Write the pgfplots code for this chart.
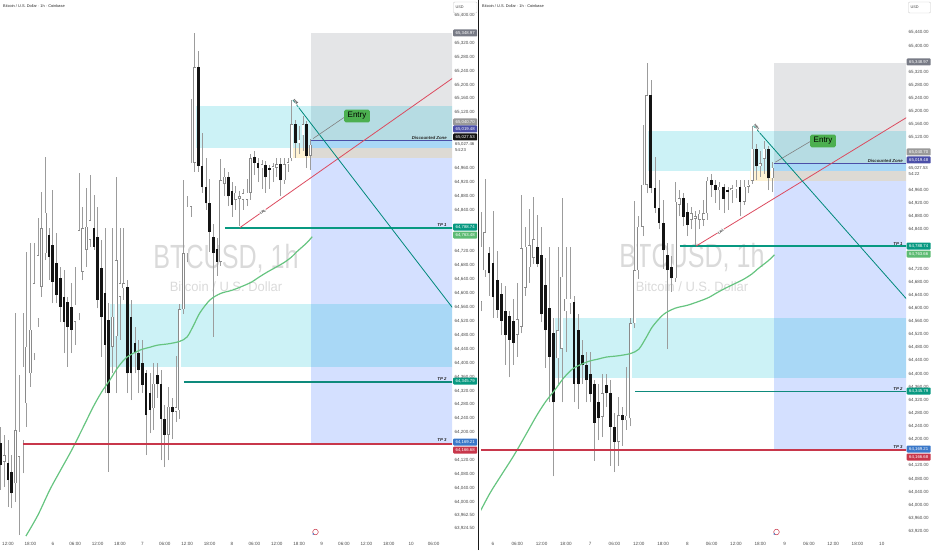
\documentclass[border=0pt]{standalone}
\usepackage{fontspec}
\setmainfont{Liberation Sans}
\usepackage{pgfplots}
\usepackage{pgfplotstable}
\pgfplotsset{compat=1.18}

\definecolor{wickc}{HTML}{9C9C9C}
\definecolor{outc}{HTML}{8A8A8A}
\definecolor{downc}{HTML}{141414}
\definecolor{mac}{RGB}{102,196,128}
\definecolor{greyz}{RGB}{120,123,134}
\definecolor{bluez}{RGB}{41,98,255}
\definecolor{cyanz}{RGB}{0,188,212}
\definecolor{yelz}{RGB}{255,200,60}
\definecolor{tpgreen}{HTML}{089981}
\definecolor{tptwo}{HTML}{0E8A7C}
\definecolor{tpred}{HTML}{C8374B}
\definecolor{discc}{HTML}{4B4FA8}
\definecolor{lrlc}{RGB}{220,75,95}
\definecolor{hrlc}{HTML}{00897B}
\definecolor{entryc}{RGB}{76,175,80}
\definecolor{labc}{HTML}{4A4A4A}
\definecolor{wmc}{HTML}{DADADA}
\definecolor{stopl}{HTML}{787B86}
\definecolor{entl}{HTML}{9A9A9A}
\definecolor{mal}{HTML}{5DBB73}
\definecolor{tgtl}{HTML}{3A78C9}

\newcommand{\lbfont}{\fontsize{4.3}{5}\selectfont}

% hourly candles, h = hours after day 5 00:00
\pgfplotstableread{
h O H L C
11 64116 64193 64044 64135
14 64054 64543 64001 64207
15 64130 64365 63905 64202
16 64178 64543 64082 64389
17 64284 64720 64217 64447
18 64370 64744 64332 64495
19 64428 64744 64408 64629
20 64528 64816 64504 64710
21 64619 64893 64591 64787
22 64715 64993 64696 64832
30 64519 64677 64452 64567
31 64543 64945 64523 64782
32 64662 64849 64638 64787
33 64725 64902 64677 64792
34 64754 64940 64734 64811
40 64447 64787 64370 64533
41 64476 64936 64313 64696
42 64591 64787 64466 64629
43 64615 64787 64581 64629
51 64269 64400 64207 64340
55 64193 64330 64120 64274
57 64259 64420 64230 64272
58 64264 64570 64240 64554
59 64554 64926 64540 64716
60 64716 64880 64690 64849
61 64849 65160 64820 64976
62 64976 65349 64950 65250
69 64691 64986 64680 64925
70 64915 64960 64880 64935
73 64869 64910 64840 64889
74 64872 64895 64793 64880
75 64870 64900 64840 64888
76 64870 64930 64850 64889
77 64889 65000 64870 64989
80 64960 64985 64900 64971
83 64960 64975 64920 64966
84 64962 64990 64935 64971
86 64925 64990 64915 64971
87 64971 64990 64950 64977
88 64989 65156 64980 65086
90 65032 65080 65000 65042
91 65055 65110 65010 65086
93 64996 65045 64955 65027.53
}\upc

\pgfplotstableread{
h O H L C
10 64169 64217 64035 64106
12 64111 64178 63987 64063
13 64087 64135 63982 64025
23 64768 64787 64638 64706
24 64739 64897 64571 64634
25 64686 64773 64571 64595
26 64643 64677 64519 64562
27 64591 64667 64428 64519
28 64576 64591 64389 64504
29 64562 64629 64428 64495
35 64787 64883 64725 64734
36 64763 64849 64557 64581
37 64672 64754 64418 64533
38 64600 64787 64313 64452
39 64523 64571 64087 64313
44 64619 64638 64313 64370
45 64533 64581 64293 64370
46 64456 64504 64370 64428
47 64428 64466 64313 64380
48 64399 64466 64313 64337
49 64370 64380 64135 64250
50 64313 64370 64197 64265
52 64366 64400 64300 64340
53 64340 64380 64120 64239
54 64239 64280 64100 64193
56 64274 64300 64180 64259
63 65250 65296 64950 64966
64 64966 65062 64890 64905
65 64905 64990 64840 64859
66 64859 64930 64720 64777
67 64762 64800 64475 64716
68 64727 64760 64650 64691
71 64935 64950 64850 64879
72 64894 64920 64820 64854
78 64991 65010 64940 64976
79 64976 64990 64920 64960
81 64970 64980 64890 64934
82 64960 64970 64900 64955
85 64971 64990 64880 64925
89 65086 65100 64990 65032
92 65086 65095 64960 64996
}\downc

\pgfplotstableread{
h ma
16.8 63902
20 63962
23.2 64035
26 64090
29.1 64150
32 64212
34.8 64273
37 64315
39.3 64351
41.5 64388
43.9 64417
47.4 64437
50 64445
52 64451
55 64455
58 64462
60 64475
61.8 64510
63.4 64544
66.1 64581
69 64600
72.3 64610
76.8 64630
79 64645
81.4 64661
85.7 64687
88 64705
89.4 64720
92 64745
93.5 64763
}\matab

\pgfplotsset{
  tv/.style={
    scale only axis, anchor=south west, height=537pt,
    axis line style={draw=none}, tick style={draw=none}, major tick length=0pt,
    clip mode=individual, scaled y ticks=false,
    yticklabel pos=right,
    xticklabel style={font=\fontsize{4.6}{5}\selectfont, text=labc, anchor=center, inner sep=0pt, yshift=-6.5pt},
    yticklabel style={font=\fontsize{4.5}{5}\selectfont, text=labc, anchor=west, inner sep=0pt, xshift=2.5pt,
      /pgf/number format/.cd, fixed, fixed zerofill, precision=2, 1000 sep={,}, assume math mode=true},
  },
  ebar/.style={draw=none, mark=none, forget plot, error bars/.cd, y dir=plus, y explicit, error mark=none},
}

% #1 text right h, #2 LRL angle, #3 HRL angle, #4 body width, #5 inner width, #6 inset
\newcommand{\overlays}[6]{%
  \addplot[draw=none, fill=greyz, fill opacity=0.2, forget plot] coordinates {(93.3,65040.7) (140,65040.7) (140,65348.97) (93.3,65348.97)};
  \addplot[draw=none, fill=bluez, fill opacity=0.2, forget plot] coordinates {(93.3,64169.21) (140,64169.21) (140,65040.7) (93.3,65040.7)};
  \addplot[draw=none, fill=cyanz, fill opacity=0.2, forget plot] coordinates {(62.1,65018) (140,65018) (140,65139) (62.1,65139)};
  \addplot[draw=none, fill=cyanz, fill opacity=0.2, forget plot] coordinates {(39.3,64388) (140,64388) (140,64569) (39.3,64569)};
  \addplot[draw=none, fill=yelz, fill opacity=0.22, forget plot] coordinates {(87.5,64989) (140,64989) (140,65018) (87.5,65018)};
  % wicks
  \addplot[ebar, error bar style={line width=0.6pt, draw=wickc}] table[x=h, y=L, y error expr=\thisrow{H}-\thisrow{L}] {\upc};
  \addplot[ebar, error bar style={line width=0.6pt, draw=wickc}] table[x=h, y=L, y error expr=\thisrow{H}-\thisrow{L}] {\downc};
  % bodies
  \addplot[ebar, error bar style={line width=#4, draw=outc}] table[x=h, y=O, y error expr={max(\thisrow{C}-\thisrow{O},3)}] {\upc};
  \addplot[ebar, error bar style={line width=#5, draw=white}] table[x=h, y expr=\thisrow{O}+#6, y error expr={max(\thisrow{C}-\thisrow{O}-2*#6,0)}] {\upc};
  \addplot[ebar, error bar style={line width=#4, draw=downc}] table[x=h, y=C, y error expr={max(\thisrow{O}-\thisrow{C},3)}] {\downc};
  % moving average
  \addplot[draw=mac, line width=1.2pt, mark=none, smooth, forget plot] table[x=h, y=ma] {\matab};
  % levels
  \addplot[draw=tpgreen, line width=1.8pt, mark=none, forget plot] coordinates {(70.1,64788.74) (140,64788.74)};
  \addplot[draw=tptwo, line width=1.8pt, mark=none, forget plot] coordinates {(59.1,64345.79) (140,64345.79)};
  \addplot[draw=tpred, line width=1.8pt, mark=none, forget plot] coordinates {(16,64166.68) (140,64166.68)};
  \addplot[draw=discc, line width=1.3pt, mark=none, forget plot] coordinates {(93.3,65040.7) (140,65040.7)};
  % trend lines
  \addplot[draw=lrlc, line width=0.8pt, mark=none, forget plot] coordinates {(74.1,64789) (140,65286)};
  \addplot[draw=hrlc, line width=0.6pt, mark=none, dashed, forget plot] coordinates {(88.3,65156) (89.9,65134)};
  \addplot[draw=hrlc, line width=0.8pt, mark=none, forget plot] coordinates {(89.9,65134) (140,64434)};
  \addplot[draw=gray, line width=0.6pt, mark=none, forget plot] coordinates {(93.7,65045) (102.3,65108)};
  % texts
  \node[rotate=#2, font=\bfseries\fontsize{3.4}{4}\selectfont, fill=white, inner sep=0.3pt, text=black!80] at (axis cs:80.3,64834) {LRL};
  \node[rotate=#3, font=\bfseries\fontsize{3.4}{4}\selectfont, inner sep=0.3pt, text=black!80] at (axis cs:89.2,65150) {HRL};
  \node[fill=entryc, rounded corners=1.5pt, inner xsep=3.5pt, inner ysep=2.8pt, font=\fontsize{8}{9}\selectfont, text=black] at (axis cs:105.5,65110) {Entry};
  \node[anchor=south east, inner sep=0.8pt, font=\bfseries\itshape\fontsize{4.3}{5}\selectfont, text=black!85] at (axis cs:#1,65040.7) {Discounted Zone};
  \node[anchor=south east, inner sep=1pt, font=\bfseries\itshape\fontsize{4.3}{5}\selectfont, text=black!85] at (axis cs:#1,64788.74) {TP 1};
  \node[anchor=south east, inner sep=1pt, font=\bfseries\itshape\fontsize{4.3}{5}\selectfont, text=black!85] at (axis cs:#1,64345.79) {TP 2};
  \node[anchor=south east, inner sep=1pt, font=\bfseries\itshape\fontsize{4.3}{5}\selectfont, text=black!85] at (axis cs:#1,64169.21) {TP 3};
}

\newcommand{\plab}[4]{\node[fill=#3, text=white, font=\lbfont, inner sep=0pt, minimum height=7pt, minimum width=24pt, anchor=west, rounded corners=0.8pt] at (#1pt,#2pt) {#4};}

\begin{document}
\begin{tikzpicture}
\path[use as bounding box] (0pt,0pt) rectangle (932pt,550pt);
% watermarks
\node[text=wmc, font=\fontsize{33.5}{34}\selectfont] at (226pt,291pt) {\scalebox{0.75}[1]{BTCUSD, 1h}};
\node[text=wmc, font=\fontsize{13.5}{14}\selectfont] at (226pt,263pt) {\scalebox{0.96}[1]{Bitcoin / U.S. Dollar}};
\node[text=wmc, font=\fontsize{33.5}{34}\selectfont] at (692pt,292pt) {\scalebox{0.75}[1]{BTCUSD, 1h}};
\node[text=wmc, font=\fontsize{13.5}{14}\selectfont] at (692pt,263pt) {\scalebox{0.96}[1]{Bitcoin / U.S. Dollar}};

\begin{axis}[tv, at={(0pt,13pt)}, width=452pt,
  xmin=9.857, xmax=130.94, ymin=63899.3, ymax=65443.8,
  xtick={12,18,...,126},
  xticklabels={12:00,18:00,6,06:00,12:00,18:00,7,06:00,12:00,18:00,8,06:00,12:00,18:00,9,06:00,12:00,18:00,10,06:00},
  ytick={65400,65320,65280,65240,65200,65160,65120,64960,64920,64880,64840,64720,64680,64640,64600,64560,64520,64480,64440,64400,64360,64320,64280,64240,64200,64120,64080,64040,64000,63962.5,63924.5}]
  \overlays{129.8}{35}{-52.5}{2.6pt}{1.7pt}{1.5}
\end{axis}

\begin{axis}[tv, at={(481pt,13pt)}, width=425pt,
  xmin=21.037, xmax=125.98, ymin=63902.4, ymax=65539.6,
  xtick={24,30,...,120},
  xticklabels={6,06:00,12:00,18:00,7,06:00,12:00,18:00,8,06:00,12:00,18:00,9,06:00,12:00,18:00,10},
  ytick={65440,65400,65320,65280,65240,65200,65160,65120,64960,64920,64880,64840,64720,64680,64640,64600,64560,64520,64480,64440,64400,64360,64320,64280,64240,64200,64120,64080,64040,64000,63960,63920}]
  \overlays{125.4}{31.4}{-48.5}{2.9pt}{2.0pt}{1.6}
\end{axis}

% divider
\draw[black!90, line width=1.6pt] (478.6pt,0pt) -- (478.6pt,550pt);

% titles
\node[anchor=west, inner sep=0pt, font=\fontsize{3.9}{4}\selectfont, text=black!85] at (3pt,544pt) {Bitcoin / U.S. Dollar · 1h · Coinbase};
\node[anchor=west, inner sep=0pt, font=\fontsize{3.9}{4}\selectfont, text=black!85] at (482pt,544pt) {Bitcoin / U.S. Dollar · 1h · Coinbase};

% USD boxes
\draw[black!20, fill=white, rounded corners=1pt, line width=0.4pt] (453.5pt,537pt) rectangle (477pt,548pt);
\node[anchor=west, inner sep=0pt, font=\fontsize{3.8}{4}\selectfont, text=black!75] at (455.5pt,542.5pt) {USD};
\draw[black!20, fill=white, rounded corners=1pt, line width=0.4pt] (908.5pt,537pt) rectangle (930.5pt,548pt);
\node[anchor=west, inner sep=0pt, font=\fontsize{3.8}{4}\selectfont, text=black!75] at (910.5pt,542.5pt) {USD};

% price labels, left panel
\plab{453}{517}{stopl}{65,348.97}
\plab{453}{428}{entl}{65,040.70}
\plab{453}{421}{discc}{65,019.48}
\plab{453}{413}{downc}{65,027.53}
\node[anchor=west, inner sep=0pt, font=\lbfont, text=black!75] at (455pt,406pt) {65,027.46};
\node[anchor=west, inner sep=0pt, font=\lbfont, text=black!75] at (455pt,400pt) {54:23};
\plab{453}{323}{tpgreen}{64,788.74}
\plab{453}{315}{mal}{64,763.48}
\plab{453}{169}{tpgreen}{64,345.79}
\plab{453}{108}{tgtl}{64,169.21}
\plab{453}{100}{tpred}{64,166.68}

% price labels, right panel
\plab{906.5}{488}{stopl}{65,348.97}
\plab{906.5}{398}{entl}{65,040.70}
\plab{906.5}{390}{discc}{65,019.48}
\node[anchor=west, inner sep=0pt, font=\lbfont, text=black!75] at (908.5pt,382pt) {65,027.53};
\node[anchor=west, inner sep=0pt, font=\lbfont, text=black!75] at (908.5pt,376pt) {54:22};
\plab{906.5}{304}{tpgreen}{64,788.74}
\plab{906.5}{296}{mal}{64,763.66}
\plab{906.5}{159}{tpgreen}{64,345.79}
\plab{906.5}{101}{tgtl}{64,169.21}
\plab{906.5}{93}{tpred}{64,166.68}

% small icons at the bottom
\draw[tpred, line width=0.5pt] (315.5pt,18pt) circle (2.8pt);
\fill[tgtl] (313.2pt,16pt) circle (0.9pt);
\draw[tpred, line width=0.5pt] (776.5pt,18pt) circle (2.8pt);
\fill[tgtl] (774.2pt,16pt) circle (0.9pt);
\end{tikzpicture}
\end{document}
